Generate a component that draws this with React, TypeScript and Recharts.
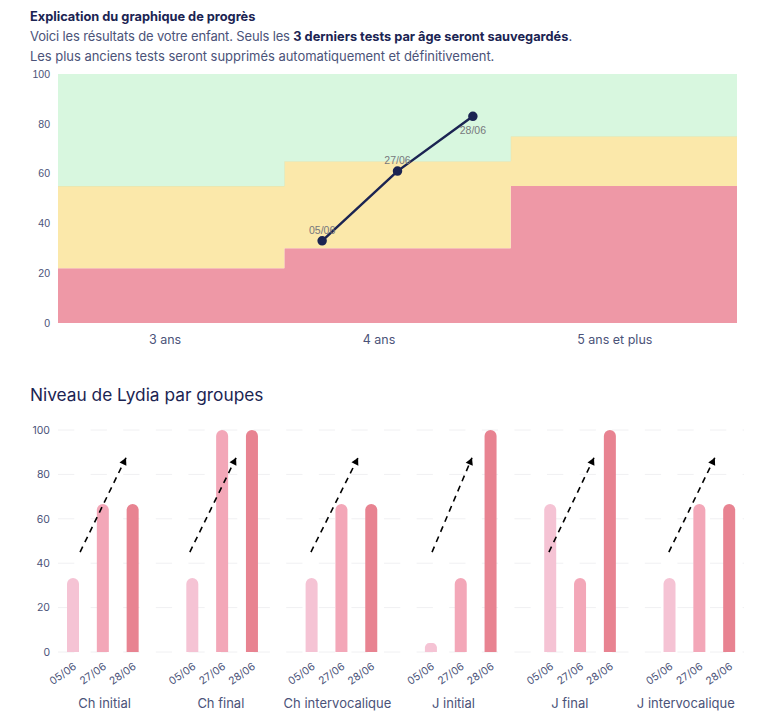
import React from "react";
import {
  Area,
  Bar,
  BarChart,
  CartesianGrid,
  Cell,
  ComposedChart,
  Line,
  ReferenceLine,
  XAxis,
  YAxis,
} from "recharts";

// progress chart
const ageGroups = ["3 ans", "4 ans", "5 ans et plus"];
const ageTickX = [0.473, 1.418, 2.46];
const bandX = [0, 1, 2, 3];
const redBand = [22, 30, 55, 55];
const yellowBand = [33, 35, 20, 20];
const greenBand = [45, 35, 25, 25];
const testDates = ["05/06", "27/06", "28/06"];
const testX = [1.167, 1.5, 1.833];
const testScores = [33, 61, 83];

// bars by group
const groups = ["Ch initial", "Ch final", "Ch intervocalique", "J initial", "J final", "J intervocalique"];
const groupTickX = [1.56, 5.46, 9.37, 13.26, 17.16, 21.05];
const groupScores = [
  [33.3, 66.7, 66.7],
  [33.3, 100, 100],
  [33.3, 66.7, 66.7],
  [4, 33.3, 100],
  [66.7, 33.3, 100],
  [33.3, 66.7, 66.7],
];
const barColors = ["#f5c3d4", "#f3a7b8", "#e88391"];
const arrowStartX = [0.74, 4.42, 8.48, 12.54, 16.46, 20.48];
const arrowEndX = [2.28, 5.97, 10.06, 13.88, 17.97, 22.02];
const arrowStartY = 45;
const arrowEndY = 87.5;

const bands = bandX.map((x, i) => ({ x, red: redBand[i], yellow: yellowBand[i], green: greenBand[i] }));
const testPoints = testX.map((x, i) => ({ x, score: testScores[i] }));

// one slot per bar, plus an empty slot between groups
const slots: any[] = [];
groups.forEach((group, g) => {
  groupScores[g].forEach((score, d) => {
    slots.push({ slot: `s${slots.length}`, date: testDates[d], score, colour: barColors[d] });
  });
  if (g < groups.length - 1) slots.push({ slot: `s${slots.length}`, date: "", score: null, colour: "none" });
});

const navy = "#1b2452";
const slate = "#4b5379";
const uiFont = "Inter, sans-serif";

function TestLabel(props: any) {
  const below = props.index === 2;
  return (
    <text
      x={props.x}
      y={props.y + (below ? 18 : -7)}
      textAnchor="middle"
      fontSize={10.5}
      fontFamily="Liberation Sans"
      fill="#77777c"
    >
      {testDates[props.index]}
    </text>
  );
}

function Arrow(props: any) {
  const { x1, y1, x2, y2 } = props;
  const a = Math.atan2(y2 - y1, x2 - x1);
  const size = 8;
  const left = [x2 - size * Math.cos(a - 0.5), y2 - size * Math.sin(a - 0.5)];
  const right = [x2 - size * Math.cos(a + 0.5), y2 - size * Math.sin(a + 0.5)];
  return (
    <g>
      <line x1={x1} y1={y1} x2={x2} y2={y2} stroke="#000" strokeWidth={1.6} strokeDasharray="6 5" />
      <polygon points={`${x2},${y2} ${left.join(",")} ${right.join(",")}`} fill="#000" />
    </g>
  );
}

export default function App() {
  return (
    <div style={{ position: "absolute", left: 0, top: 0, width: 768, height: 720, background: "#fff", overflow: "hidden" }}>
      <div style={{ position: "absolute", left: 30, top: 9, fontFamily: uiFont, fontSize: 12.8, fontWeight: 700, color: navy, whiteSpace: "nowrap" }}>
        Explication du graphique de progrès
      </div>
      <div style={{ position: "absolute", left: 30, top: 28, fontFamily: uiFont, fontSize: 13, color: slate, whiteSpace: "nowrap", letterSpacing: -0.15 }}>
        Voici les résultats de votre enfant. Seuls les{" "}
        <b style={{ color: navy, fontSize: 12.8, letterSpacing: 0 }}>3 derniers tests par âge seront sauvegardés</b>.
      </div>
      <div style={{ position: "absolute", left: 30, top: 48, fontFamily: uiFont, fontSize: 13, color: slate, whiteSpace: "nowrap", letterSpacing: -0.04 }}>
        Les plus anciens tests seront supprimés automatiquement et définitivement.
      </div>

      <div style={{ position: "absolute", left: 0, top: 0 }}>
        <ComposedChart width={768} height={360} data={bands} margin={{ top: 74, right: 31, bottom: 7, left: 0 }}>
          <XAxis
            dataKey="x"
            type="number"
            domain={[0, 3]}
            ticks={ageTickX}
            tickFormatter={(_: number, i: number) => ageGroups[i]}
            interval={0}
            height={30}
            tickMargin={6}
            axisLine={false}
            tickLine={false}
            tick={{ fontSize: 12.5, fontFamily: uiFont, fill: slate }}
          />
          <YAxis
            width={58}
            domain={[0, 100]}
            ticks={[0, 20, 40, 60, 80, 100]}
            axisLine={false}
            tickLine={false}
            tick={{ fontSize: 10.5, fontFamily: "Liberation Sans", fill: slate }}
          />
          <Area dataKey="red" stackId="b" type="stepAfter" fill="#ee98a6" fillOpacity={1} stroke="none" isAnimationActive={false} />
          <Area dataKey="yellow" stackId="b" type="stepAfter" fill="#fbe8aa" fillOpacity={1} stroke="#dfe6b4" strokeWidth={1} isAnimationActive={false} />
          <Area dataKey="green" stackId="b" type="stepAfter" fill="#d8f7df" fillOpacity={1} stroke="none" isAnimationActive={false} />
          <Line
            data={testPoints}
            dataKey="score"
            type="linear"
            stroke={navy}
            strokeWidth={2.5}
            dot={{ r: 3.5, fill: navy, stroke: navy }}
            label={<TestLabel />}
            isAnimationActive={false}
          />
        </ComposedChart>
      </div>

      <div style={{ position: "absolute", left: 30, top: 384, fontFamily: uiFont, fontSize: 17.3, color: navy, whiteSpace: "nowrap" }}>
        Niveau de Lydia par groupes
      </div>

      <div style={{ position: "absolute", left: 0, top: 410 }}>
        <BarChart width={768} height={310} data={slots} barCategoryGap={0} margin={{ top: 20, right: 24, bottom: 8, left: 0 }}>
          <CartesianGrid xAxisId="dates" vertical={false} stroke="#f0f0f2" strokeDasharray="16.3 16.3" />
          <XAxis
            xAxisId="dates"
            dataKey="slot"
            interval={0}
            height={36}
            tickMargin={4}
            axisLine={false}
            tickLine={false}
            tickFormatter={(_: string, i: number) => slots[i].date}
            angle={-35}
            textAnchor="end"
            tick={{ fontSize: 10.5, fontFamily: uiFont, fill: slate }}
          />
          <XAxis
            xAxisId="labels"
            type="number"
            dataKey={() => 0}
            domain={[0, 23]}
            ticks={groupTickX}
            interval={0}
            height={24}
            tickMargin={5}
            axisLine={false}
            tickLine={false}
            tickFormatter={(_: number, i: number) => groups[i]}
            tick={{ fontSize: 13, fontFamily: uiFont, fill: slate }}
          />
          <YAxis
            width={58}
            domain={[0, 100]}
            ticks={[0, 20, 40, 60, 80, 100]}
            axisLine={false}
            tickLine={false}
            tick={{ fontSize: 10.5, fontFamily: uiFont, fill: slate }}
          />
          <Bar xAxisId="dates" dataKey="score" barSize={12} radius={[6, 6, 0, 0]} isAnimationActive={false}>
            {slots.map((s) => (
              <Cell key={s.slot} fill={s.colour} />
            ))}
          </Bar>
          {arrowStartX.map((x, i) => (
            <ReferenceLine
              key={i}
              xAxisId="labels"
              segment={[
                { x, y: arrowStartY },
                { x: arrowEndX[i], y: arrowEndY },
              ]}
              shape={(p: any) => <Arrow x1={p.x1} y1={p.y1} x2={p.x2} y2={p.y2} />}
            />
          ))}
        </BarChart>
      </div>
    </div>
  );
}
